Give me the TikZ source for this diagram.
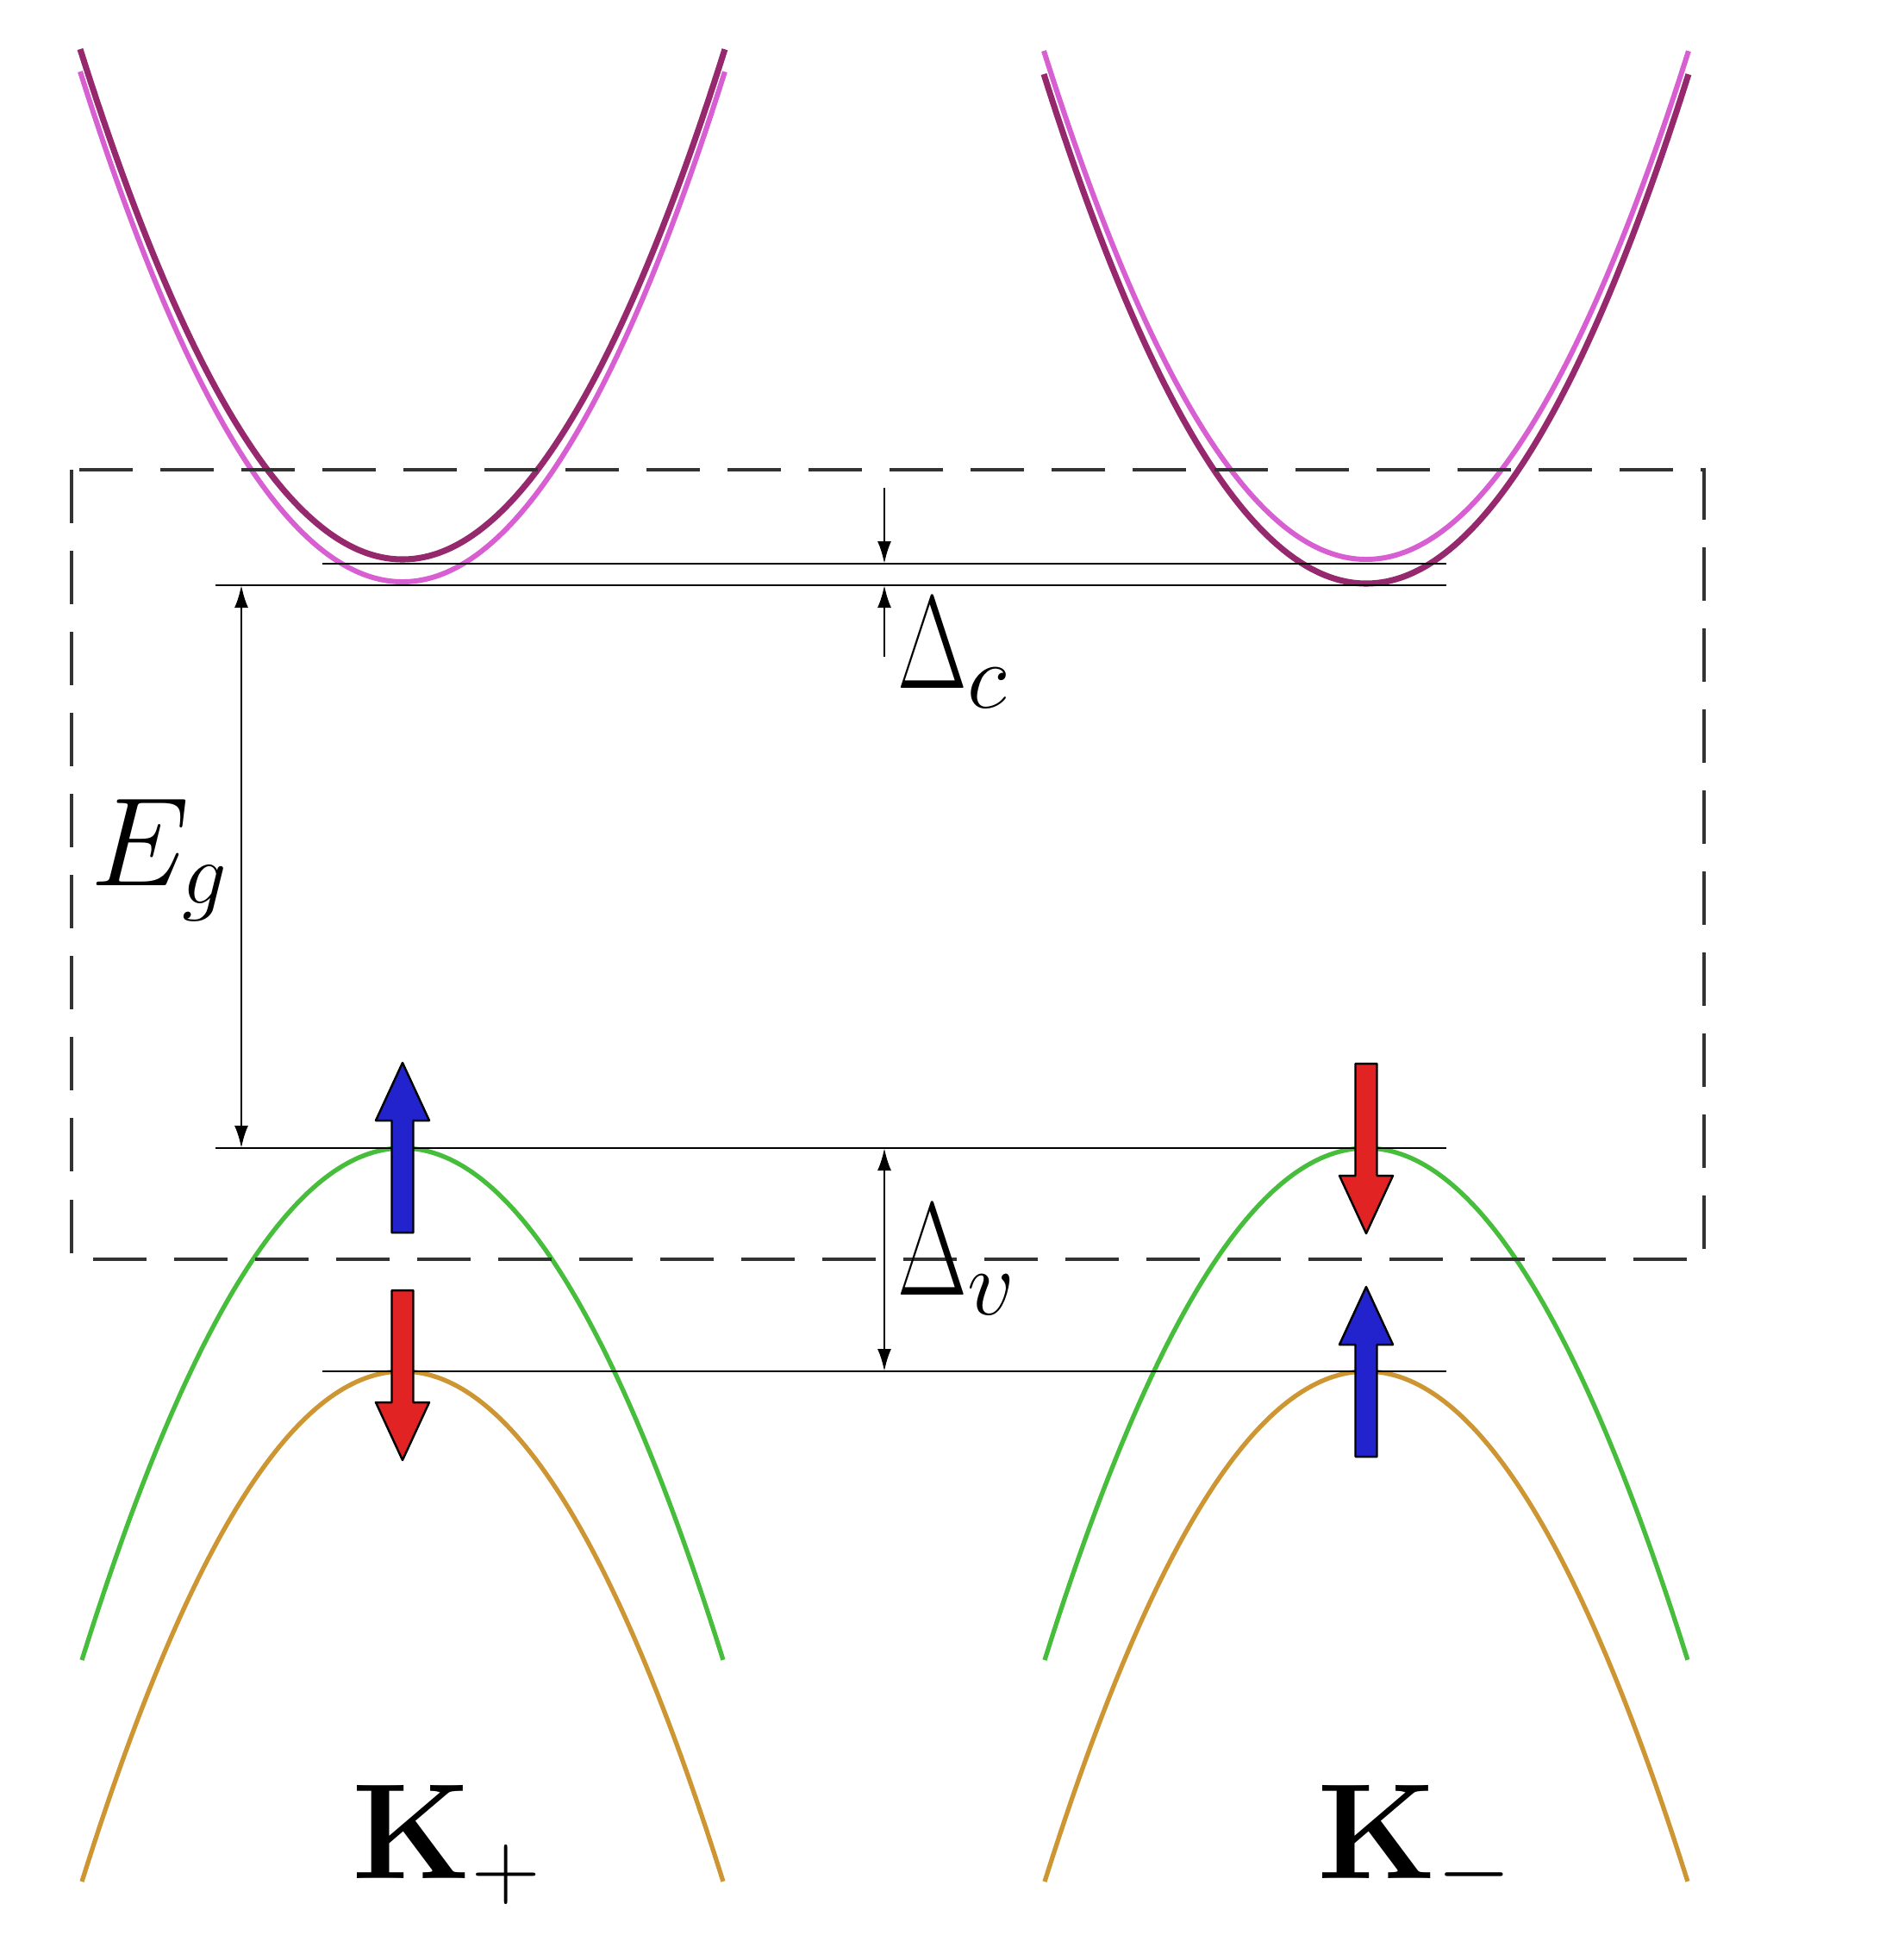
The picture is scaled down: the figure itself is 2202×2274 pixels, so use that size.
\RequirePackage{fix-cm}
\documentclass[tikz,border=0pt]{standalone}
\usepackage{graphicx}
\usetikzlibrary{arrows.meta}
\definecolor{cbdark}{RGB}{150,40,110}
\definecolor{cbpink}{RGB}{215,95,210}
\definecolor{vbgreen}{RGB}{70,190,60}
\definecolor{vborange}{RGB}{205,150,50}
\definecolor{spinblue}{RGB}{35,35,205}
\definecolor{spinred}{RGB}{225,35,35}
\newcommand{\narrowDelta}{\scalebox{0.68}[1]{$\Delta$}}
\begin{document}
\begin{tikzpicture}[x=0.01cm,y=-0.01cm,
  darkband/.style={draw=cbdark, line width=2.0pt},
  pinkband/.style={draw=cbpink, line width=1.7pt},
  greenband/.style={draw=vbgreen, line width=1.5pt},
  orangeband/.style={draw=vborange, line width=1.5pt},
  level/.style={draw=black, line width=0.8pt},
  dimarrow/.style={draw=black, line width=0.8pt, -{Latex[length=0.26cm,width=0.16cm]}},
  dimboth/.style={draw=black, line width=0.8pt, {Latex[length=0.26cm,width=0.16cm]}-{Latex[length=0.26cm,width=0.16cm]}},
  boxline/.style={draw=black!80, line width=0.9pt, dash pattern=on 0.62cm off 0.32cm},
  lbl/.style={inner sep=0pt, anchor=base west},
  spin/.pic={\draw[pic actions, line width=0.7pt, line join=round]
     (-12.5,0) -- (-12.5,-130) -- (-31,-130) -- (0,-197) -- (31,-130) -- (12.5,-130) -- (12.5,0) -- cycle;}
]
\useasboundingbox (0,0) rectangle (2202,2274);

% conduction bands
\draw[darkband] plot[domain=-1:1, samples=80, smooth] ({467+374*\x},{649-592*\x*\x});
\draw[pinkband] plot[domain=-1:1, samples=80, smooth] ({467+374*\x},{675-592*\x*\x});
\draw[pinkband] plot[domain=-1:1, samples=80, smooth] ({1585+374*\x},{649-590*\x*\x});
\draw[darkband] plot[domain=-1:1, samples=80, smooth] ({1585+374*\x},{677-591*\x*\x});

% valence bands
\draw[greenband] plot[domain=-1:1, samples=80, smooth] ({467+372*\x},{1332+594*\x*\x});
\draw[orangeband] plot[domain=-1:1, samples=80, smooth] ({467+372*\x},{1591+592*\x*\x});
\draw[greenband] plot[domain=-1:1, samples=80, smooth] ({1585+373*\x},{1332+594*\x*\x});
\draw[orangeband] plot[domain=-1:1, samples=80, smooth] ({1585+373*\x},{1591+592*\x*\x});

% dashed box
\coordinate (boxNW) at (83,545);
\coordinate (boxSE) at (1977,1461);
\draw[boxline] (boxNW) rectangle (boxSE);

% levels
\coordinate (lA1) at (374,654);  \coordinate (lA2) at (1678,654);
\coordinate (lB1) at (250,679);  \coordinate (lB2) at (1678,679);
\coordinate (lC1) at (250,1332); \coordinate (lC2) at (1678,1332);
\coordinate (lD1) at (374,1591); \coordinate (lD2) at (1678,1591);
\draw[level] (lA1) -- (lA2);
\draw[level] (lB1) -- (lB2);
\draw[level] (lC1) -- (lC2);
\draw[level] (lD1) -- (lD2);

% dimension arrows
\coordinate (dcTop) at (1026,566);  \coordinate (dcA) at (1026,654);
\coordinate (dcBot) at (1026,762);  \coordinate (dcB) at (1026,679);
\draw[dimarrow] (dcTop) -- (dcA);
\draw[dimarrow] (dcBot) -- (dcB);
\coordinate (egA) at (280,679); \coordinate (egB) at (280,1332);
\draw[dimboth] (egA) -- (egB);
\coordinate (dvA) at (1026,1332); \coordinate (dvB) at (1026,1591);
\draw[dimboth] (dvA) -- (dvB);

% spins
\pic[fill=spinblue] at (467,1430) {spin};
\pic[fill=spinred, rotate=180] at (467,1497) {spin};
\pic[fill=spinred, rotate=180] at (1585,1234) {spin};
\pic[fill=spinblue] at (1585,1690) {spin};

% labels
\node[lbl, font=\fontsize{41.6}{50}\selectfont] (Eg) at (105,1027) {$E_g$};
\node[lbl, font=\fontsize{43.7}{52}\selectfont] (Dc) at (1041,798) {$\narrowDelta_c$};
\node[lbl, font=\fontsize{43.7}{52}\selectfont] (Dv) at (1041,1502) {$\narrowDelta_v$};
\node[lbl, font=\fontsize{44.8}{54}\selectfont] (Kp) at (408,2179) {$\mathbf{K}_+$};
\node[lbl, font=\fontsize{44.8}{54}\selectfont] (Km) at (1528,2179) {$\mathbf{K}_-$};
\end{tikzpicture}
\end{document}
